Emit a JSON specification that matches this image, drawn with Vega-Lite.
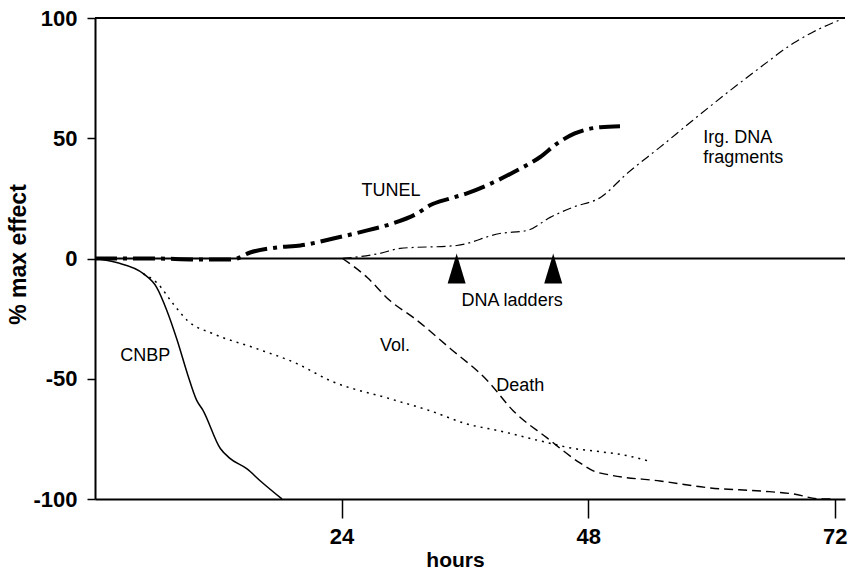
{
  "$schema": "https://vega.github.io/schema/vega-lite/v6.json",
  "width": 750,
  "height": 481,
  "autosize": "none",
  "padding": {"left": 95, "top": 18, "right": 8, "bottom": 75},
  "background": "white",
  "config": {
    "view": {"stroke": null},
    "axis": {
      "grid": false,
      "labelFont": "Liberation Sans",
      "labelFontWeight": "bold",
      "labelFontSize": 22,
      "labelColor": "black",
      "titleFont": "Liberation Sans",
      "titleFontWeight": "bold",
      "titleFontSize": 21,
      "titleColor": "black",
      "domainColor": "black",
      "domainWidth": 2,
      "tickColor": "black",
      "tickWidth": 1.5
    },
    "text": {"font": "Liberation Sans", "fontSize": 18, "color": "black"}
  },
  "datasets": {
    "curves": [
      {"series": "CNBP", "h": 0, "v": 0},
      {"series": "CNBP", "h": 2.1, "v": -1.7},
      {"series": "CNBP", "h": 4.7, "v": -6.3},
      {"series": "CNBP", "h": 6.0, "v": -12},
      {"series": "CNBP", "h": 7.0, "v": -21.7},
      {"series": "CNBP", "h": 8.0, "v": -34},
      {"series": "CNBP", "h": 9.0, "v": -48},
      {"series": "CNBP", "h": 9.9, "v": -59},
      {"series": "CNBP", "h": 10.5, "v": -63},
      {"series": "CNBP", "h": 12.2, "v": -79},
      {"series": "CNBP", "h": 13.1, "v": -83},
      {"series": "CNBP", "h": 14.8, "v": -87.5},
      {"series": "CNBP", "h": 16.1, "v": -92.5},
      {"series": "CNBP", "h": 18.2, "v": -100},
      {"series": "Vol", "h": 4.7, "v": -6.3},
      {"series": "Vol", "h": 6.0, "v": -10},
      {"series": "Vol", "h": 7.6, "v": -18.8},
      {"series": "Vol", "h": 9.0, "v": -25.8},
      {"series": "Vol", "h": 11.5, "v": -31.3},
      {"series": "Vol", "h": 15.4, "v": -37},
      {"series": "Vol", "h": 19.7, "v": -43.8},
      {"series": "Vol", "h": 22.9, "v": -50.8},
      {"series": "Vol", "h": 28.7, "v": -58.3},
      {"series": "Vol", "h": 32.6, "v": -63.3},
      {"series": "Vol", "h": 36.2, "v": -68.8},
      {"series": "Vol", "h": 39.4, "v": -71.7},
      {"series": "Vol", "h": 43.3, "v": -75.8},
      {"series": "Vol", "h": 46.9, "v": -79.2},
      {"series": "Vol", "h": 48.5, "v": -80},
      {"series": "Vol", "h": 51.8, "v": -82},
      {"series": "Vol", "h": 54.2, "v": -84.6},
      {"series": "Death", "h": 24.1, "v": 0},
      {"series": "Death", "h": 26.5, "v": -7.9},
      {"series": "Death", "h": 28.7, "v": -17.5},
      {"series": "Death", "h": 31.0, "v": -24.6},
      {"series": "Death", "h": 34.6, "v": -37.5},
      {"series": "Death", "h": 38.2, "v": -50.8},
      {"series": "Death", "h": 40.7, "v": -63.3},
      {"series": "Death", "h": 44.0, "v": -74.6},
      {"series": "Death", "h": 47.2, "v": -85},
      {"series": "Death", "h": 48.5, "v": -88.3},
      {"series": "Death", "h": 50.1, "v": -90},
      {"series": "Death", "h": 55.0, "v": -92.5},
      {"series": "Death", "h": 59.9, "v": -95.4},
      {"series": "Death", "h": 64.8, "v": -96.7},
      {"series": "Death", "h": 68.0, "v": -97.9},
      {"series": "Death", "h": 70.6, "v": -100},
      {"series": "Death", "h": 72.0, "v": -100},
      {"series": "TUNEL", "h": 0, "v": 0},
      {"series": "TUNEL", "h": 5.4, "v": 0},
      {"series": "TUNEL", "h": 10.2, "v": -0.4},
      {"series": "TUNEL", "h": 13.4, "v": -0.4},
      {"series": "TUNEL", "h": 15.1, "v": 2.5},
      {"series": "TUNEL", "h": 17.7, "v": 4.6},
      {"series": "TUNEL", "h": 20.0, "v": 5.4},
      {"series": "TUNEL", "h": 23.2, "v": 8.3},
      {"series": "TUNEL", "h": 26.5, "v": 11.7},
      {"series": "TUNEL", "h": 29.0, "v": 14.6},
      {"series": "TUNEL", "h": 31.4, "v": 18.8},
      {"series": "TUNEL", "h": 32.6, "v": 22.1},
      {"series": "TUNEL", "h": 34.6, "v": 25},
      {"series": "TUNEL", "h": 36.2, "v": 27.1},
      {"series": "TUNEL", "h": 38.8, "v": 31.7},
      {"series": "TUNEL", "h": 41.1, "v": 36.7},
      {"series": "TUNEL", "h": 43.3, "v": 42.1},
      {"series": "TUNEL", "h": 45.0, "v": 47.9},
      {"series": "TUNEL", "h": 46.7, "v": 52},
      {"series": "TUNEL", "h": 49.2, "v": 54.6},
      {"series": "TUNEL", "h": 51.1, "v": 55},
      {"series": "Irg", "h": 24.1, "v": 0},
      {"series": "Irg", "h": 27.7, "v": 2.1},
      {"series": "Irg", "h": 29.7, "v": 4.2},
      {"series": "Irg", "h": 35.2, "v": 5.4},
      {"series": "Irg", "h": 39.4, "v": 10.4},
      {"series": "Irg", "h": 42.1, "v": 11.7},
      {"series": "Irg", "h": 44.3, "v": 17.1},
      {"series": "Irg", "h": 46.5, "v": 21.3},
      {"series": "Irg", "h": 49.2, "v": 25.4},
      {"series": "Irg", "h": 51.8, "v": 35.4},
      {"series": "Irg", "h": 55.0, "v": 46.3},
      {"series": "Irg", "h": 58.2, "v": 57.5},
      {"series": "Irg", "h": 61.5, "v": 68.8},
      {"series": "Irg", "h": 64.8, "v": 79.6},
      {"series": "Irg", "h": 68.0, "v": 89.6},
      {"series": "Irg", "h": 69.9, "v": 94.2},
      {"series": "Irg", "h": 72.5, "v": 99.2}
    ],
    "labels": [
      {"label": "CNBP", "h": 4.9, "v": -40.4},
      {"label": "Vol.", "h": 29.2, "v": -36.3},
      {"label": "Death", "h": 41.4, "v": -52.9},
      {"label": "TUNEL", "h": 28.8, "v": 27.9},
      {"label": "DNA ladders", "h": 40.6, "v": -17.5}
    ],
    "leftlabels": [
      {"label": "Irg. DNA", "h": 59.2, "v": 50},
      {"label": "fragments", "h": 59.2, "v": 41.7}
    ],
    "markers": [
      {"h": 35.2, "v": -4.2},
      {"h": 44.6, "v": -4.2}
    ]
  },
  "layer": [
    {
      "data": {"values": [{"v": 100}, {"v": 0}]},
      "mark": {"type": "rule", "color": "black", "strokeWidth": 2},
      "encoding": {"y": {"field": "v", "type": "quantitative", "scale": {"domain": [-100, 100]}}}
    },
    {
      "data": {"name": "curves"},
      "transform": [{"filter": "datum.series === 'CNBP'"}],
      "mark": {"type": "line", "color": "black", "strokeWidth": 1.5, "interpolate": "monotone"},
      "encoding": {
        "x": {"field": "h", "type": "quantitative", "scale": {"domain": [0, 73], "nice": false},
          "axis": {"values": [24, 48, 72], "tickSize": 19, "labelPadding": 8, "title": "hours", "titlePadding": 2, "titleX": 360}},
        "y": {"field": "v", "type": "quantitative", "scale": {"domain": [-100, 100], "nice": false},
          "axis": {"values": [-100, -50, 0, 50, 100], "tickSize": 8, "labelPadding": 10,
            "labelExpr": "replace(datum.label, '\u2212', '-')",
            "title": "% max effect", "titleFontSize": 23, "titleX": -77, "titleY": 236, "titleAlign": "center", "titleBaseline": "middle"}}
      }
    },
    {
      "data": {"name": "curves"},
      "transform": [{"filter": "datum.series === 'Vol'"}],
      "mark": {"type": "line", "color": "black", "strokeWidth": 1.5, "strokeDash": [2, 5], "interpolate": "monotone"},
      "encoding": {"x": {"field": "h", "type": "quantitative"}, "y": {"field": "v", "type": "quantitative"}}
    },
    {
      "data": {"name": "curves"},
      "transform": [{"filter": "datum.series === 'Death'"}],
      "mark": {"type": "line", "color": "black", "strokeWidth": 1.4, "strokeDash": [9, 5], "interpolate": "monotone"},
      "encoding": {"x": {"field": "h", "type": "quantitative"}, "y": {"field": "v", "type": "quantitative"}}
    },
    {
      "data": {"name": "curves"},
      "transform": [{"filter": "datum.series === 'TUNEL'"}],
      "mark": {"type": "line", "color": "black", "strokeWidth": 4, "strokeDash": [22, 6, 4, 6], "interpolate": "monotone"},
      "encoding": {"x": {"field": "h", "type": "quantitative"}, "y": {"field": "v", "type": "quantitative"}}
    },
    {
      "data": {"name": "curves"},
      "transform": [{"filter": "datum.series === 'Irg'"}],
      "mark": {"type": "line", "color": "black", "strokeWidth": 1.2, "strokeDash": [9, 4, 2, 4], "interpolate": "monotone"},
      "encoding": {"x": {"field": "h", "type": "quantitative"}, "y": {"field": "v", "type": "quantitative"}}
    },
    {
      "data": {"name": "markers"},
      "mark": {"type": "point", "shape": "M-0.6,1L0,-1L0.6,1Z", "size": 900, "filled": true, "color": "black", "opacity": 1},
      "encoding": {"x": {"field": "h", "type": "quantitative"}, "y": {"field": "v", "type": "quantitative"}}
    },
    {
      "data": {"name": "labels"},
      "mark": {"type": "text", "align": "center", "baseline": "middle"},
      "encoding": {
        "x": {"field": "h", "type": "quantitative"},
        "y": {"field": "v", "type": "quantitative"},
        "text": {"field": "label"}
      }
    },
    {
      "data": {"name": "leftlabels"},
      "mark": {"type": "text", "align": "left", "baseline": "middle"},
      "encoding": {
        "x": {"field": "h", "type": "quantitative"},
        "y": {"field": "v", "type": "quantitative"},
        "text": {"field": "label"}
      }
    }
  ]
}
